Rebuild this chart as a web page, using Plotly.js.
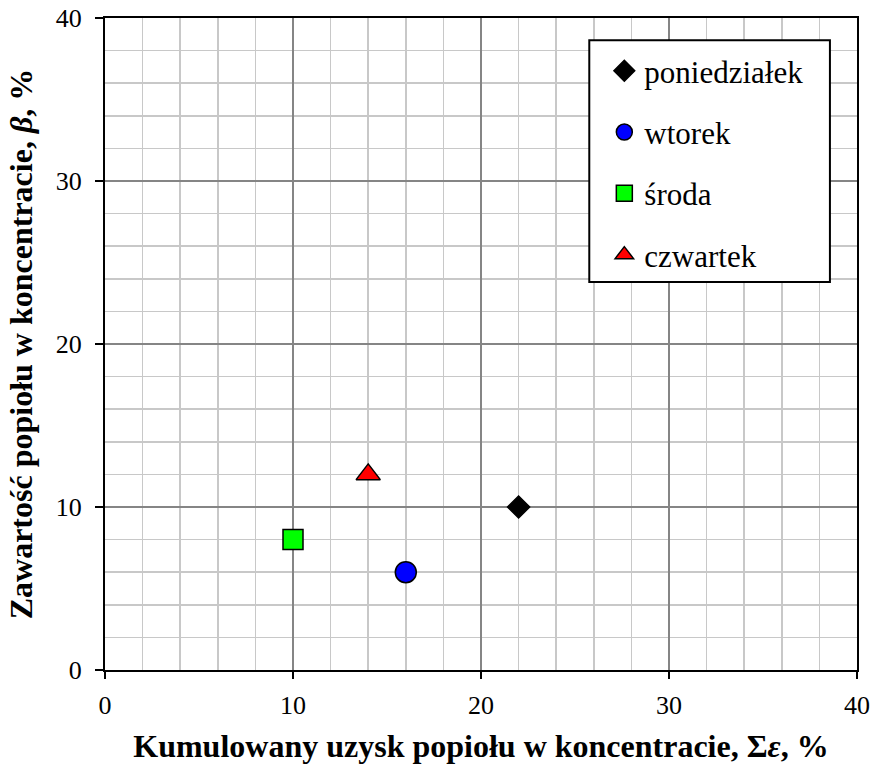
<!DOCTYPE html>
<html>
<head>
<meta charset="utf-8">
<script src="https://cdn.plot.ly/plotly-3.0.1.min.js"></script>
<style>
html,body{margin:0;padding:0;background:#fff;}
#chart{width:874px;height:765px;}
</style>
</head>
<body>
<div id="chart"></div>
<script>
// Data
const days = ["poniedziałek", "wtorek", "środa", "czwartek"];
const cumulativeYield = [22, 16, 10, 14];   // Σε, %
const ashContent = [10, 6, 8, 12];          // β, %
const xTickValues = [0, 10, 20, 30, 40];
const yTickValues = [0, 10, 20, 30, 40];

// Styles (kept separate from data)
const markerSymbols = ["diamond", "circle", "square", "triangle-up"];
const markerColors = ["#000000", "#0000ff", "#00ff00", "#ff0000"];
const markerSizes = [17, 21, 20, 21];

const FONT = "Liberation Serif";

const traces = days.map((d, i) => ({
  type: "scatter",
  mode: "markers",
  name: d,
  legendgroup: "g" + i,
  x: [cumulativeYield[i]],
  y: [ashContent[i]],
  marker: {
    symbol: markerSymbols[i],
    color: markerColors[i],
    size: markerSizes[i],
    line: {color: "#000000", width: 1.5}
  },
  hoverinfo: "x+y+name"
}));

const layout = {
  width: 874,
  height: 765,
  margin: {l: 105, r: 17, t: 18, b: 95},
  paper_bgcolor: "#ffffff",
  plot_bgcolor: "#ffffff",
  font: {family: FONT, color: "#000000", size: 26},
  showlegend: true,
  legend: {
    x: 0.664, y: 0.960, xanchor: "left", yanchor: "top",
    bgcolor: "rgba(0,0,0,0)",
    borderwidth: 0,
    font: {family: FONT, size: 31, color: "#000"},
    traceorder: "grouped",
    tracegroupgap: 18,
    itemwidth: 30
  },
  xaxis: {
    range: [0, 40],
    tickvals: xTickValues,
    ticktext: xTickValues.map(String),
    ticks: "outside", ticklen: 7, tickwidth: 2, tickcolor: "#000",
    ticklabelstandoff: 4,
    showline: true, linecolor: "#000", linewidth: 2, mirror: true,
    showgrid: true, gridcolor: "#858585", gridwidth: 1.5,
    zeroline: false,
    minor: {dtick: 2, tick0: 0, showgrid: true, gridcolor: "#c8c8c8", gridwidth: 1.5, ticks: ""},
    tickfont: {family: FONT, size: 26, color: "#000"},
    title: {
      text: "<b>Kumulowany uzysk popiołu w koncentracie, Σ<i>ε</i>, %</b>",
      font: {family: FONT, size: 32, color: "#000"},
      standoff: 15
    },
    fixedrange: true
  },
  yaxis: {
    range: [0, 40],
    tickvals: yTickValues,
    ticktext: yTickValues.map(String),
    ticks: "outside", ticklen: 8, tickwidth: 2, tickcolor: "#000",
    ticklabelstandoff: 8,
    showline: true, linecolor: "#000", linewidth: 2, mirror: true,
    showgrid: true, gridcolor: "#858585", gridwidth: 1.5,
    zeroline: false,
    minor: {dtick: 2, tick0: 0, showgrid: true, gridcolor: "#c8c8c8", gridwidth: 1.5, ticks: ""},
    tickfont: {family: FONT, size: 26, color: "#000"},
    title: {
      text: "<b>Zawartość popiołu w koncentracie, <i>β</i>, %</b>",
      font: {family: FONT, size: 32, color: "#000"},
      standoff: 14
    },
    fixedrange: true
  },
  shapes: [{
    type: "rect", xref: "paper", yref: "paper",
    x0: 0.644, x1: 0.964, y0: 0.595, y1: 0.966,
    fillcolor: "#ffffff",
    line: {color: "#000", width: 2},
    layer: "above"
  }]
};

Plotly.newPlot("chart", traces, layout, {displayModeBar: false, staticPlot: true});
</script>
</body>
</html>
